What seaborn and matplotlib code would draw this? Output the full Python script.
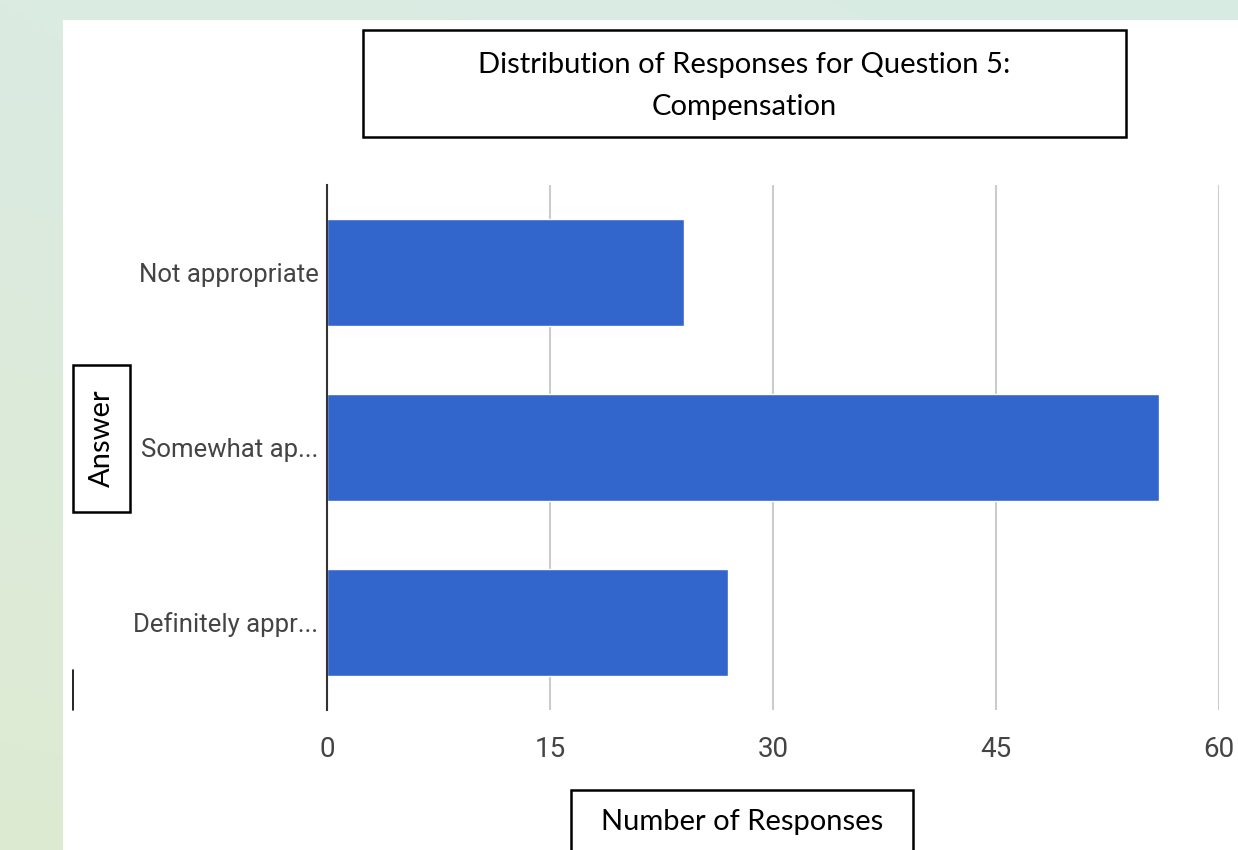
import matplotlib
matplotlib.use("Agg")
import matplotlib.pyplot as plt
from matplotlib.patches import Rectangle
from matplotlib.lines import Line2D
import seaborn as sns
import pandas as pd
import numpy as np

# data
answers = ["Not appropriate", "Somewhat ap...", "Definitely appr..."]
counts = [24, 56, 27]
x_ticks = [0, 15, 30, 45, 60]

title_text = "Distribution of Responses for Question 5:\nCompensation"
ylabel_text = "Answer"
xlabel_text = "Number of Responses"

df = pd.DataFrame({"Answer": answers, "Count": counts})

sns.set_theme(style="white")
tick_font = ["Roboto", "Liberation Sans", "DejaVu Sans"]
box_font = ["Lato", "Open Sans", "DejaVu Sans"]

fig = plt.figure(figsize=(12.38, 8.5), dpi=100)

# soft green slide background (corner colours, bilinear blend)
bg = fig.add_axes([0, 0, 1, 1], zorder=-2)
corners = np.array([[[219, 235, 226], [216, 236, 227]],
                    [[222, 234, 210], [220, 235, 216]]]) / 255.0
bg.imshow(corners, aspect="auto", interpolation="bilinear", extent=[0, 1, 0, 1])
bg.set_xlim(0.25, 0.75)
bg.set_ylim(0.25, 0.75)
bg.axis("off")

# white slide panel
fig.patches.append(Rectangle((0.0509, 0.0), 0.95, 0.9765, transform=fig.transFigure,
                             facecolor="white", edgecolor="none", zorder=-1))

ax = fig.add_axes([0.2641, 0.1647, 0.7205, 0.6176], zorder=1)
sns.barplot(data=df, x="Count", y="Answer", color="#3366cc", width=0.61,
            saturation=1, ax=ax, zorder=3)

ax.set_xlim(0, 60)
ax.set_xticks(x_ticks)
ax.grid(axis="x", color="#cccccc", linewidth=1.5, zorder=0)
ax.set_axisbelow(True)
for side in ["top", "bottom", "right"]:
    ax.spines[side].set_visible(False)
ax.spines["left"].set_color("#333333")
ax.spines["left"].set_linewidth(1.5)
ax.spines["left"].set_zorder(4)
ax.set_xlabel("")
ax.set_ylabel("")
ax.tick_params(axis="x", length=0, pad=19, labelsize=20, labelcolor="#444444")
ax.tick_params(axis="y", length=0, pad=6, labelsize=18.5, labelcolor="#444444")
for lab in ax.get_xticklabels() + ax.get_yticklabels():
    lab.set_family(tick_font)

# boxed title and axis labels
def boxed(x0, y0, w, h, text, tx, ty, rot=0, size=21):
    fig.patches.append(Rectangle((x0, y0), w, h, transform=fig.transFigure,
                                 facecolor="white", edgecolor="black", linewidth=1.8, zorder=5))
    fig.text(tx, ty, text, ha="center", va="center", rotation=rot, fontsize=size,
             family=box_font, color="black", linespacing=1.78, zorder=6)

boxed(0.2932, 0.8388, 0.6163, 0.1259, title_text, 0.6014, 0.8988)
boxed(0.0590, 0.3976, 0.0460, 0.1730, ylabel_text, 0.0820, 0.4841, rot=90)
boxed(0.4612, -0.02, 0.2763, 0.0906, xlabel_text, 0.5994, 0.0329)

# stray cursor mark at left edge
fig.lines.append(Line2D([0.0590, 0.0590], [0.1647, 0.2118], transform=fig.transFigure,
                        color="black", linewidth=1.2))

fig.savefig("out.png", dpi=100)
